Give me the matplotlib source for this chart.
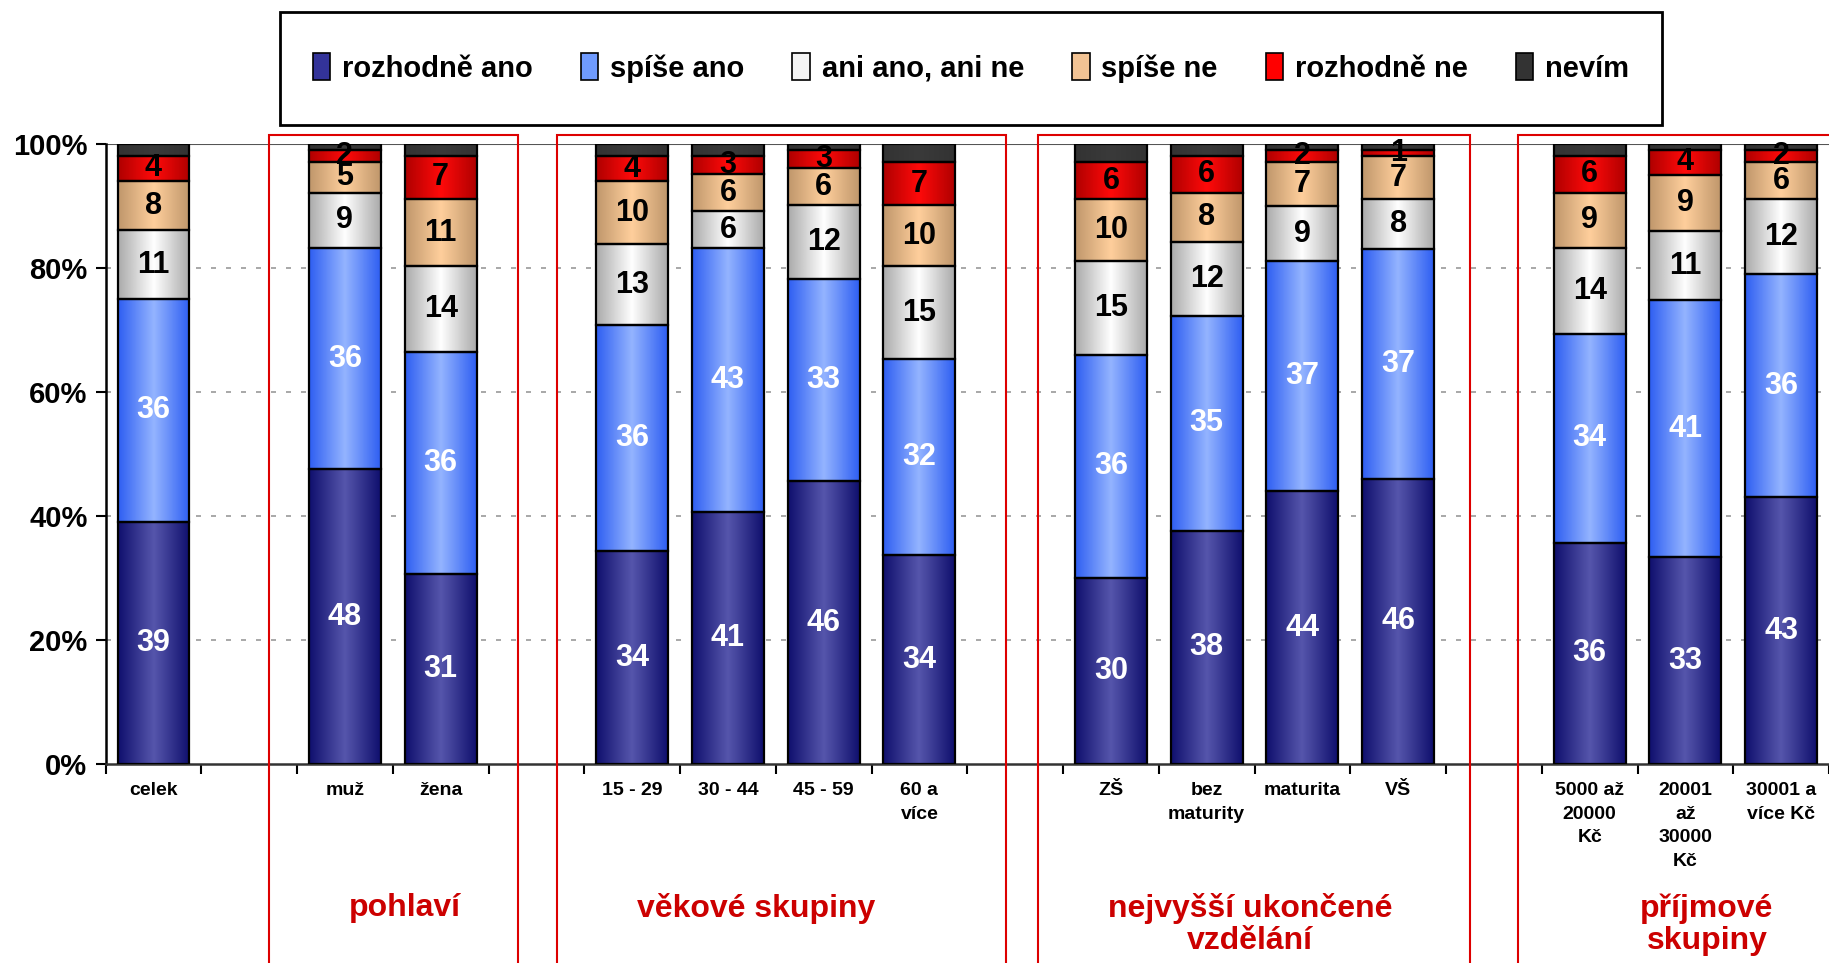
import numpy as np
import matplotlib.pyplot as plt
from matplotlib.colors import LinearSegmentedColormap
from matplotlib.patches import Rectangle, Patch

plt.rcParams['font.family'] = ['Liberation Sans', 'DejaVu Sans']
plt.rcParams['font.weight'] = 'bold'

# kategorie (prázdné pozice = mezery mezi skupinami)
kategorie = ["celek", "", "muž", "žena", "", "15 - 29", "30 - 44", "45 - 59",
             "60 a\nvíce", "", "ZŠ", "bez\nmaturity", "maturita", "VŠ", "",
             "5000 až\n20000\nKč", "20001\naž\n30000\nKč", "30001 a\nvíce Kč"]

odpovedi = ["rozhodně ano", "spíše ano", "ani ano, ani ne", "spíše ne", "rozhodně ne", "nevím"]

rozhodne_ano = [39, None, 48, 31, None, 34, 41, 46, 34, None, 30, 38, 44, 46, None, 36, 33, 43]
spise_ano    = [36, None, 36, 36, None, 36, 43, 33, 32, None, 36, 35, 37, 37, None, 34, 41, 36]
ani_ani      = [11, None, 9, 14, None, 13, 6, 12, 15, None, 15, 12, 9, 8, None, 14, 11, 12]
spise_ne     = [8, None, 5, 11, None, 10, 6, 6, 10, None, 10, 8, 7, 7, None, 9, 9, 6]
rozhodne_ne  = [4, None, 2, 7, None, 4, 3, 3, 7, None, 6, 6, 2, 1, None, 6, 4, 2]
nevim        = [2, None, 1, 2, None, 2, 2, 1, 3, None, 3, 2, 1, 1, None, 2, 1, 1]

skupiny = ["pohlaví", "věkové skupiny", "nejvyšší ukončené\nvzdělání", "příjmové\nskupiny"]

# barvy: (okraj, střed) pro vodorovný přechod
barvy = [("#10106e", "#5656ac"), ("#2f5ff2", "#94b4ff"), ("#ababab", "#ffffff"),
         ("#c0976c", "#ffcf9c"), ("#b00000", "#ff0a0a"), ("#333333", "#3a3a3a")]
legenda_barvy = ["#333399", "#6f9bff", "#f4f4f4", "#f2c394", "#ff0000", "#333333"]
barva_textu = ["white", "white", "black", "black", "black", "black"]

fig = plt.figure(figsize=(18.29, 9.63), dpi=100)
ax = fig.add_axes([0.0577, 0.2066, 0.9423, 0.6443])

serie = [rozhodne_ano, spise_ano, ani_ani, spise_ne, rozhodne_ne, nevim]
x = np.arange(len(kategorie))
idx = [i for i in x if rozhodne_ano[i] is not None]
data = np.array([[s[i] for i in idx] for s in serie], dtype=float)
podil = data / data.sum(axis=0) * 100

sirka = 0.75
spodek = np.zeros(len(idx))
for k in range(len(serie)):
    cmap = LinearSegmentedColormap.from_list("g", [barvy[k][0], barvy[k][1], barvy[k][0]])
    grad = np.linspace(0, 1, 64).reshape(1, -1)
    bars = ax.bar(idx, podil[k], sirka, bottom=spodek, facecolor="none",
                  edgecolor="black", linewidth=1.6, zorder=3)
    for b, v, lab in zip(bars, podil[k], data[k]):
        ax.imshow(grad, cmap=cmap, aspect="auto", interpolation="bilinear", zorder=2,
                  extent=(b.get_x(), b.get_x() + b.get_width(), b.get_y(), b.get_y() + v))
        if k < 5:
            ax.text(b.get_x() + b.get_width() / 2, b.get_y() + v / 2, f"{lab:.0f}",
                    ha="center", va="center", fontsize=22, fontweight="bold",
                    color=barva_textu[k], zorder=4)
    spodek += podil[k]

ax.set_xlim(-0.5, len(kategorie) - 0.5)
ax.set_ylim(0, 100)

ax.set_yticks(range(0, 101, 20))
ax.set_yticklabels([f"{v}%" for v in range(0, 101, 20)], fontsize=21, fontweight="bold")
ax.set_xticks(x)
ax.set_xticklabels(kategorie, fontsize=14, fontweight="bold", linespacing=1.5, va="top")
ax.set_xticks(np.arange(-0.5, len(kategorie)), minor=True)
ax.tick_params(axis="x", which="major", length=0, pad=13)
ax.tick_params(axis="x", which="minor", length=7, width=1.5, direction="out")
ax.tick_params(axis="y", length=7, width=1.5, direction="out", pad=6)

for v in range(20, 100, 20):
    ax.axhline(v, color="#999999", linestyle=(0, (3, 6)), linewidth=1.2, zorder=1)
ax.axhline(100, color="#555555", linewidth=1.5, zorder=1)

for s in ["top", "right"]:
    ax.spines[s].set_visible(False)
ax.spines["left"].set_linewidth(1.8)
ax.spines["bottom"].set_linewidth(1.8)
ax.spines["bottom"].set_color("#333333")

# červené rámečky skupin (v pixelech obrázku)
W, H = 1829, 963
ramecky = [(269, 518), (557, 1006), (1038, 1470), (1518, 1835)]
popisky_x = [405, 756, 1250, 1707]
for (x0, x1), px, nazev in zip(ramecky, popisky_x, skupiny):
    fig.patches.append(Rectangle((x0 / W, -0.01), (x1 - x0) / W, 1.01 - 135 / H,
                                 transform=fig.transFigure, fill=False,
                                 edgecolor="#dd0000", linewidth=1.5, zorder=0))
    fig.text(px / W, 1 - 893 / H, nazev, ha="center", va="top", multialignment="center",
             fontsize=23, fontweight="bold", color="#cc0000", linespacing=1.1)

# legenda
fig.patches.append(Rectangle((280 / W, 1 - 125 / H), (1662 - 280) / W, 113 / H,
                             transform=fig.transFigure, fill=False,
                             edgecolor="black", linewidth=2))
handles = [Patch(facecolor=c, edgecolor="black", linewidth=1.2) for c in legenda_barvy]
fig.legend(handles, odpovedi, loc="center", ncol=6, frameon=False,
           bbox_to_anchor=(971 / W, 1 - 68 / H),
           prop={"weight": "bold", "size": 21},
           handlelength=0.6, handleheight=1.0, handletextpad=0.4, columnspacing=1.65)

fig.savefig("out.png", dpi=100)
